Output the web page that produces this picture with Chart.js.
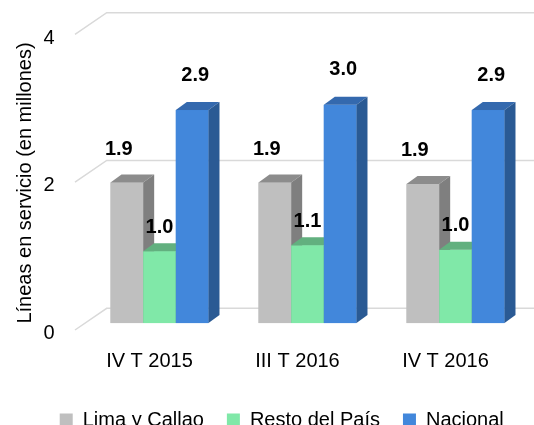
<!DOCTYPE html>
<html><head><meta charset="utf-8">
<script src="https://cdn.jsdelivr.net/npm/chart.js@4.4.1/dist/chart.umd.min.js"></script>
<style>html,body{margin:0;padding:0;background:#fff;overflow:hidden}</style>
</head><body>
<canvas id="c" width="534" height="425"></canvas>
<script>
const categories = ['IV T 2015', 'III T 2016', 'IV T 2016'];
const seriesNames = ['Lima y Callao', 'Resto del País', 'Nacional'];
const limaCallao = [1.91, 1.91, 1.89];
const restoPais = [0.98, 1.06, 1.00];
const nacional = [2.89, 2.96, 2.89];
const yTickValues = [0, 2, 4];

const FRONT = ['#BFBFBF', '#80E8A8', '#4287DB'];
const TOP = ['#8C8C8C', '#62B07F', '#3469AE'];
const SIDE = ['#7F7F7F', '#5A9E73', '#2A5A94'];
const LABEL_OFF = [[-8, -33], [0, -24], [3, -35]];
const DEPTH_X = 11, DEPTH_Y = 8;

Chart.defaults.font.family = "'Liberation Sans', Arial, sans-serif";
Chart.defaults.color = '#000';

const gridPlugin = {
  id: 'grid3d',
  beforeDatasetsDraw(chart) {
    const {ctx, chartArea, scales: {y}} = chart;
    ctx.save();
    ctx.strokeStyle = '#D9D9D9';
    ctx.lineWidth = 1.5;
    yTickValues.forEach(v => {
      const yv = y.getPixelForValue(v);
      ctx.beginPath();
      ctx.moveTo(chartArea.left - 10.5, yv + 6.4);
      ctx.lineTo(chartArea.left + 21.2, yv - 15.3);
      ctx.lineTo(chart.width, yv - 15.3);
      ctx.stroke();
    });
    ctx.restore();
  }
};

const bars3d = {
  id: 'bars3d',
  afterDatasetsDraw(chart) {
    const {ctx} = chart;
    ctx.save();
    chart.data.datasets.forEach((ds, i) => {
      const meta = chart.getDatasetMeta(i);
      meta.data.forEach((bar, j) => {
        const L = bar.x - bar.width / 2, R = bar.x + bar.width / 2;
        const T = bar.y, B = bar.base;
        ctx.fillStyle = FRONT[i];
        ctx.fillRect(L, T, R - L, B - T);
        ctx.fillStyle = TOP[i];
        ctx.beginPath();
        ctx.moveTo(L, T); ctx.lineTo(R, T); ctx.lineTo(R + DEPTH_X, T - DEPTH_Y); ctx.lineTo(L + DEPTH_X, T - DEPTH_Y);
        ctx.closePath(); ctx.fill();
        ctx.fillStyle = SIDE[i];
        ctx.beginPath();
        ctx.moveTo(R, T); ctx.lineTo(R + DEPTH_X, T - DEPTH_Y); ctx.lineTo(R + DEPTH_X, B - DEPTH_Y); ctx.lineTo(R, B);
        ctx.closePath(); ctx.fill();
      });
    });
    ctx.font = "bold 20px 'Liberation Sans', Arial, sans-serif";
    ctx.fillStyle = '#000';
    ctx.textAlign = 'center';
    ctx.textBaseline = 'middle';
    chart.data.datasets.forEach((ds, i) => {
      const meta = chart.getDatasetMeta(i);
      meta.data.forEach((bar, j) => {
        ctx.fillText(ds.data[j].toFixed(1), bar.x + LABEL_OFF[i][0], bar.y + LABEL_OFF[i][1]);
      });
    });
    ctx.restore();
  }
};

new Chart(document.getElementById('c'), {
  type: 'bar',
  data: {
    labels: categories,
    datasets: [
      {label: seriesNames[0], data: limaCallao, backgroundColor: FRONT[0], borderWidth: 0},
      {label: seriesNames[1], data: restoPais, backgroundColor: FRONT[1], borderWidth: 0},
      {label: seriesNames[2], data: nacional, backgroundColor: FRONT[2], borderWidth: 0}
    ]
  },
  options: {
    responsive: false,
    animation: false,
    devicePixelRatio: 1,
    events: [],
    layout: {padding: {left: 34, top: 28, right: 4.5, bottom: -15}},
    datasets: {bar: {categoryPercentage: 0.662, barPercentage: 1}},
    plugins: {
      tooltip: {enabled: false},
      legend: {
        position: 'bottom',
        labels: {boxWidth: 13, boxHeight: 13, padding: 23, font: {size: 20}, color: '#000'}
      }
    },
    scales: {
      x: {
        grid: {display: false},
        border: {display: false},
        ticks: {font: {size: 20}, color: '#000', padding: 18, labelOffset: -10, maxRotation: 0},
        afterFit(s) { s.height = 63.4; }
      },
      y: {
        min: 0, max: 4,
        grid: {display: true, drawOnChartArea: false, drawTicks: true, tickLength: 31, color: 'rgba(0,0,0,0)'},
        border: {display: false},
        ticks: {stepSize: 2, font: {size: 20}, color: '#000', padding: 0, labelOffset: 10},
        title: {display: true, text: 'Líneas en servicio (en millones)', align: 'start', font: {size: 20}, color: '#000', padding: {top: -21, bottom: 0}},
        afterFit(s) { s.width = 51.5; }
      }
    }
  },
  plugins: [gridPlugin, bars3d]
});
</script>
</body></html>
